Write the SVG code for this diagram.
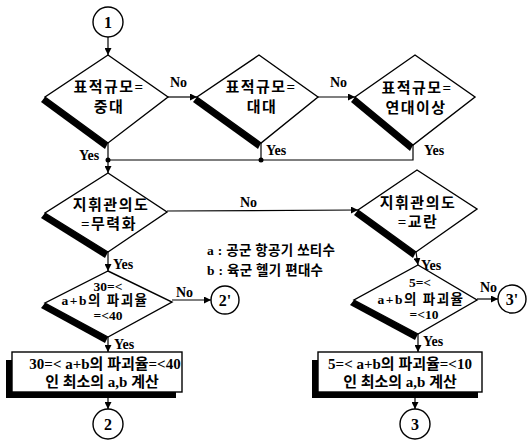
<svg xmlns="http://www.w3.org/2000/svg" width="531" height="445" viewBox="0 0 531 445">
<defs>
<style>
.bg{fill:#fff}
.shape{fill:#fff;stroke:#000;stroke-width:1.4}
.sh{fill:#000}
.k{font-family:"Liberation Serif","Noto Sans CJK KR",serif;font-size:15px;font-weight:bold;text-anchor:middle;fill:#000}
.w{letter-spacing:1.5px}
.s{font-size:13.5px}
.lg{font-family:"Liberation Serif","Noto Sans CJK KR",serif;font-size:13.5px;font-weight:bold;fill:#000;letter-spacing:0.3px}
.lbl{font-family:"Liberation Serif",serif;font-size:14px;font-weight:bold;fill:#000}
.num{font-family:"Liberation Serif",serif;font-size:16px;font-weight:bold;text-anchor:middle;fill:#000}
.c{fill:none;stroke:#000;stroke-width:1.2}
</style>
<marker id="ah" viewBox="0 0 10 10" refX="10" refY="5" markerWidth="7" markerHeight="7" markerUnits="userSpaceOnUse" orient="auto">
<path d="M0,0 L10,5 L0,10 z" fill="#000"/>
</marker>
</defs>
<rect class="bg" x="0" y="0" width="531" height="445"/>

<g id="connectors">
<line class="c" x1="108" y1="37" x2="108" y2="55" marker-end="url(#ah)"/>
<line class="c" x1="168" y1="97" x2="197" y2="97" marker-end="url(#ah)"/>
<line class="c" x1="318" y1="97" x2="355" y2="97" marker-end="url(#ah)"/>
<line class="c" x1="108" y1="143" x2="108" y2="160"/>
<line class="c" x1="261" y1="143" x2="261" y2="160"/>
<polyline class="c" points="413,145 413,160 108,160"/>
<circle cx="108" cy="160" r="2.5" fill="#000"/>
<circle cx="261" cy="160" r="2.5" fill="#000"/>
<line class="c" x1="108" y1="160" x2="108" y2="173" marker-end="url(#ah)"/>
<line class="c" x1="167" y1="211" x2="358" y2="210" marker-end="url(#ah)"/>
<line class="c" x1="108" y1="252" x2="108" y2="271" marker-end="url(#ah)"/>
<line class="c" x1="172" y1="300" x2="211" y2="300" marker-end="url(#ah)"/>
<line class="c" x1="108" y1="337" x2="108" y2="352" marker-end="url(#ah)"/>
<line class="c" x1="108" y1="392" x2="108" y2="409" marker-end="url(#ah)"/>
<line class="c" x1="416" y1="252" x2="418" y2="265" marker-end="url(#ah)"/>
<line class="c" x1="477" y1="299" x2="498" y2="299" marker-end="url(#ah)"/>
<line class="c" x1="418" y1="334" x2="418" y2="352" marker-end="url(#ah)"/>
<line class="c" x1="415" y1="392" x2="415" y2="409" marker-end="url(#ah)"/>
<text class="lbl" x="170" y="87">No</text>
<text class="lbl" x="330" y="87">No</text>
<text class="lbl" x="79" y="160">Yes</text>
<text class="lbl" x="266" y="155">Yes</text>
<text class="lbl" x="424" y="155">Yes</text>
<text class="lbl" x="240" y="207">No</text>
<text class="lbl" x="113" y="269">Yes</text>
<text class="lbl" x="176" y="297">No</text>
<text class="lbl" x="114" y="349">Yes</text>
<text class="lbl" x="421" y="270">Yes</text>
<text class="lbl" x="480" y="292">No</text>
<text class="lbl" x="423" y="346">Yes</text>
</g>

<g id="c1"><circle class="shape" cx="108" cy="22" r="15"/><text class="num" x="108" y="28">1</text></g>

<g id="d1">
<polygon class="sh" points="45,97 108,143 105,149 41,102"/>
<polygon class="shape" points="108,55 168,97 108,143 45,97"/>
<text class="k w" x="109" y="92">표적규모=</text>
<text class="k w" x="109" y="112">중대</text>
</g>
<g id="d2">
<polygon class="sh" points="197,97 261,143 258,149 193,102"/>
<polygon class="shape" points="259,55 318,97 261,143 197,97"/>
<text class="k w" x="261" y="92">표적규모=</text>
<text class="k w" x="262" y="112">대대</text>
</g>
<g id="d3">
<polygon class="sh" points="355,97 413,145 410,151 351,102"/>
<polygon class="shape" points="415,55 475,97 413,145 355,97"/>
<text class="k w" x="417" y="93">표적규모=</text>
<text class="k w" x="416" y="113">연대이상</text>
</g>
<g id="d4">
<polygon class="sh" points="45,213 108,252 105,258 41,218"/>
<polygon class="shape" points="108,173 167,212 108,252 45,213"/>
<text class="k w" x="111" y="210">지휘관의도</text>
<text class="k w" x="109" y="229">=무력화</text>
</g>
<g id="d5">
<polygon class="sh" points="358,210 416,252 413,258 354,215"/>
<polygon class="shape" points="417,170 477,209 416,252 358,210"/>
<text class="k w" x="418" y="208">지휘관의도</text>
<text class="k w" x="418" y="227">=교란</text>
</g>
<g id="legend">
<text class="lg" x="207" y="255">a : 공군 항공기 쏘티수</text>
<text class="lg" x="207" y="275">b : 육군 헬기 편대수</text>
</g>
<g id="d6">
<polygon class="sh" points="45,303 108,337 105,343 41,308"/>
<polygon class="shape" points="108,271 172,302 108,337 45,303"/>
<text class="k s" x="108" y="291">30=&lt;</text>
<text class="k s w" x="105" y="305">a+b의 파괴율</text>
<text class="k s" x="108" y="320">=&lt;40</text>
</g>
<g id="c2p"><circle class="shape" cx="225" cy="300" r="14"/><text class="num" x="225" y="306">2'</text></g>
<g id="d7">
<polygon class="sh" points="354,300 418,334 415,340 350,305"/>
<polygon class="shape" points="418,265 477,300 418,334 354,300"/>
<text class="k s" x="420" y="287">5=&lt;</text>
<text class="k s w" x="421" y="304">a+b의 파괴율</text>
<text class="k s" x="424" y="319">=&lt;10</text>
</g>
<g id="c3p"><circle class="shape" cx="512" cy="299" r="14"/><text class="num" x="512" y="305">3'</text></g>
<g id="r1">
<polygon class="sh" points="6,360 12,360 12,392 176,392 176,398 6,398"/>
<rect class="shape" x="12" y="352" width="170" height="40"/>
<text class="k" x="105" y="369">30=&lt; a+b의 파괴율=&lt;40</text>
<text class="k" x="102" y="387">인 최소의 a,b 계산</text>
</g>
<g id="c2"><circle class="shape" cx="108" cy="424" r="15"/><text class="num" x="108" y="430">2</text></g>
<g id="r2">
<polygon class="sh" points="312,360 318,360 318,392 478,392 478,398 312,398"/>
<rect class="shape" x="318" y="352" width="164" height="40"/>
<text class="k" x="400" y="369">5=&lt; a+b의 파괴율=&lt;10</text>
<text class="k" x="400" y="387">인 최소의 a,b 계산</text>
</g>
<g id="c3"><circle class="shape" cx="415" cy="424" r="15"/><text class="num" x="415" y="430">3</text></g>
</svg>
